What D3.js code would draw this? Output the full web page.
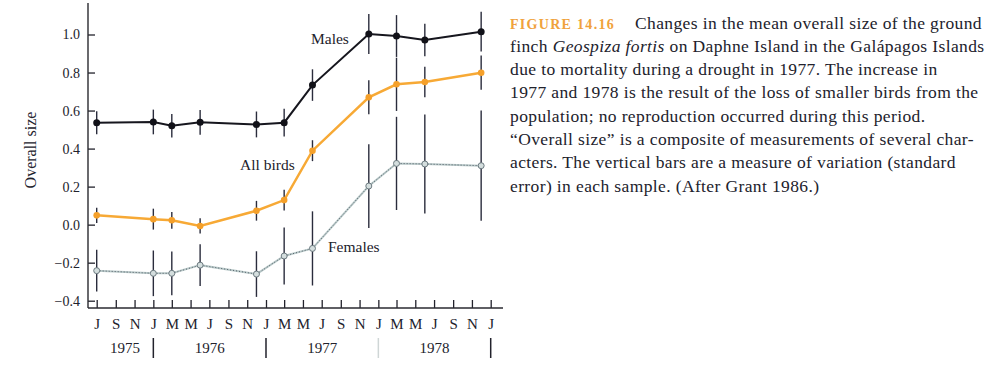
<!DOCTYPE html>
<html>
<head>
<meta charset="utf-8">
<script src="https://cdn.jsdelivr.net/npm/d3@7"></script>
<style>
  body { margin: 0; background: #fff; }
  svg text { font-family: "Liberation Serif", "Times New Roman", serif; fill: #22222c; }
</style>
</head>
<body>
<svg id="chart" width="1000" height="374"></svg>
<script>
// Sample dates (year-month) and mean overall size with standard errors
const sampleMonths = ['1975-07', '1976-01', '1976-03', '1976-06', '1976-12', '1977-03', '1977-06', '1977-12', '1978-03', '1978-06', '1978-12'];
const males = [0.536, 0.54, 0.52, 0.538, 0.527, 0.536, 0.734, 1.003, 0.992, 0.971, 1.015];
const malesErr = [0.06, 0.065, 0.062, 0.065, 0.068, 0.073, 0.083, 0.105, 0.11, 0.085, 0.105];
const allBirds = [0.049, 0.029, 0.023, -0.007, 0.073, 0.129, 0.389, 0.67, 0.738, 0.75, 0.799];
const allBirdsErr = [0.04, 0.055, 0.044, 0.04, 0.052, 0.055, 0.055, 0.09, 0.14, 0.08, 0.09];
const females = [-0.242, -0.256, -0.256, -0.213, -0.26, -0.165, -0.125, 0.203, 0.322, 0.319, 0.31];
const femalesErr = [0.11, 0.12, 0.115, 0.11, 0.12, 0.15, 0.195, 0.22, 0.245, 0.26, 0.29];

const yTicks = [-0.4, -0.2, 0, 0.2, 0.4, 0.6, 0.8, 1.0];
const years = ['1975', '1976', '1977', '1978'];
const yearBounds = ['1975-07', '1976-01', '1977-01', '1978-01', '1979-01'];

const captionLines = [
  'finch <i>Geospiza fortis</i> on Daphne Island in the Galápagos Islands',
  'due to mortality during a drought in 1977. The increase in',
  '1977 and 1978 is the result of the loss of smaller birds from the',
  'population; no reproduction occurred during this period.',
  '\u201COverall size\u201D is a composite of measurements of several char-',
  'acters. The vertical bars are a measure of variation (standard',
  'error) in each sample. (After Grant 1986.)'
];

const parseMonth = d3.timeParse('%Y-%m');
const svg = d3.select('#chart');

// scales
const x = d3.scaleTime()
    .domain([parseMonth('1975-07'), parseMonth('1979-01')])
    .range([96.7, 490.7]);
const y = d3.scaleLinear()
    .domain([-0.4, 1.0])
    .range([300.7, 34.5]);

const axisX0 = 88, axisY0 = 308;

// y axis
const yAxis = svg.append('g')
    .attr('transform', `translate(${axisX0},0)`)
    .call(d3.axisLeft(y).tickValues(yTicks).tickSize(-7).tickPadding(8).tickFormat(d3.format('.1f')));
yAxis.select('.domain').remove();
yAxis.selectAll('line').attr('stroke', '#22222c').attr('stroke-width', 1.3);
yAxis.selectAll('text').style('font-size', '14px').attr('fill', '#22222c');
svg.append('line')
    .attr('x1', axisX0).attr('x2', axisX0)
    .attr('y1', 3).attr('y2', axisY0)
    .attr('stroke', '#2a2a30').attr('stroke-width', 1.4);

// x axis
const monthTicks = d3.timeMonth.every(2).range(parseMonth('1975-07'), d3.timeDay.offset(parseMonth('1979-01'), 1));
const xAxis = svg.append('g')
    .attr('transform', `translate(0,${axisY0})`)
    .call(d3.axisBottom(x).tickValues(monthTicks).tickSize(-8).tickPadding(10)
      .tickFormat(d => d3.timeFormat('%b')(d)[0]));
xAxis.select('.domain').remove();
xAxis.selectAll('line').attr('stroke', '#22222c').attr('stroke-width', 1.3);
xAxis.selectAll('text').style('font-size', '15px').attr('fill', '#22222c');
svg.append('line')
    .attr('x1', axisX0).attr('x2', 503)
    .attr('y1', axisY0).attr('y2', axisY0)
    .attr('stroke', '#2a2a30').attr('stroke-width', 1.4);

// year labels and separators
svg.selectAll('.year-label')
    .data(years)
  .join('text')
    .attr('class', 'year-label')
    .attr('x', (d, i) => (x(parseMonth(yearBounds[i])) + x(parseMonth(yearBounds[i + 1]))) / 2)
    .attr('y', 353)
    .attr('text-anchor', 'middle')
    .style('font-size', '15px')
    .text(d => d);
svg.selectAll('.year-sep')
    .data(yearBounds.slice(1))
  .join('line')
    .attr('class', 'year-sep')
    .attr('x1', d => x(parseMonth(d))).attr('x2', d => x(parseMonth(d)))
    .attr('y1', 338).attr('y2', 358)
    .attr('stroke', (d, i) => i === 2 ? '#cfd6d6' : '#22222c')
    .attr('stroke-width', 1.5);

// y axis title
svg.append('text')
    .attr('transform', 'translate(30,150) rotate(-90)')
    .attr('text-anchor', 'middle')
    .attr('dominant-baseline', 'central')
    .style('font-size', '16px')
    .text('Overall size');

const series = [
  {name: 'Females', values: females, err: femalesErr},
  {name: 'All birds', values: allBirds, err: allBirdsErr},
  {name: 'Males', values: males, err: malesErr}
];

// error bars
series.forEach(s => {
  svg.append('g').selectAll('line')
      .data(s.values)
    .join('line')
      .attr('x1', (d, i) => x(parseMonth(sampleMonths[i])))
      .attr('x2', (d, i) => x(parseMonth(sampleMonths[i])))
      .attr('y1', (d, i) => y(d + s.err[i]))
      .attr('y2', (d, i) => y(d - s.err[i]))
      .attr('stroke', '#2a2c3c')
      .attr('stroke-width', 1.4);
});

const line = d3.line()
    .x((d, i) => x(parseMonth(sampleMonths[i])))
    .y(d => y(d));

// females: light line with dark dots
svg.append('path').datum(females)
    .attr('d', line).attr('fill', 'none')
    .attr('stroke', '#b9c9c9').attr('stroke-width', 2);
svg.append('path').datum(females)
    .attr('d', line).attr('fill', 'none')
    .attr('stroke', '#55606a').attr('stroke-width', 1).attr('stroke-dasharray', '1,2');
svg.append('g').selectAll('circle')
    .data(females)
  .join('circle')
    .attr('cx', (d, i) => x(parseMonth(sampleMonths[i])))
    .attr('cy', d => y(d))
    .attr('r', 3)
    .attr('fill', '#d4dede').attr('stroke', '#6c7a80').attr('stroke-width', 1);

// all birds
svg.append('path').datum(allBirds)
    .attr('d', line).attr('fill', 'none')
    .attr('stroke', '#f7a935').attr('stroke-width', 2.5);
svg.append('g').selectAll('circle')
    .data(allBirds)
  .join('circle')
    .attr('cx', (d, i) => x(parseMonth(sampleMonths[i])))
    .attr('cy', d => y(d))
    .attr('r', 3.3)
    .attr('fill', '#f5a02a');

// males
svg.append('path').datum(males)
    .attr('d', line).attr('fill', 'none')
    .attr('stroke', '#16161e').attr('stroke-width', 2);
svg.append('g').selectAll('circle')
    .data(males)
  .join('circle')
    .attr('cx', (d, i) => x(parseMonth(sampleMonths[i])))
    .attr('cy', d => y(d))
    .attr('r', 3.5)
    .attr('fill', '#111118');

// series labels
const seriesLabels = [
  {text: 'Males', x: 311, y: 44},
  {text: 'All birds', x: 240, y: 170},
  {text: 'Females', x: 328, y: 252}
];
svg.selectAll('.series-label')
    .data(seriesLabels)
  .join('text')
    .attr('class', 'series-label')
    .attr('x', d => d.x).attr('y', d => d.y)
    .style('font-size', '15.5px')
    .text(d => d.text);

// caption
const caption = svg.append('g').attr('class', 'caption')
    .style('font-size', '17.5px').style('letter-spacing', '0.38px');
const first = caption.append('text').attr('x', 510).attr('y', 28.5);
first.append('tspan')
    .style('font-size', '14px').style('font-weight', 'bold').style('letter-spacing', '1.3px')
    .attr('fill', '#f0a23c')
    .text('FIGURE 14.16');
first.append('tspan').attr('x', 635).text('Changes in the mean overall size of the ground');

caption.selectAll('.cap-line')
    .data(captionLines)
  .join('text')
    .attr('class', 'cap-line')
    .attr('x', 510)
    .attr('y', (d, i) => 28.5 + (i + 1) * 23.3)
    .each(function(d) {
      const t = d3.select(this);
      d.split(/(<i>.*?<\/i>)/).forEach(part => {
        if (!part) return;
        const it = part.startsWith('<i>');
        t.append('tspan')
            .style('font-style', it ? 'italic' : 'normal')
            .text(it ? part.slice(3, -4) : part);
      });
    });
</script>
</body>
</html>
